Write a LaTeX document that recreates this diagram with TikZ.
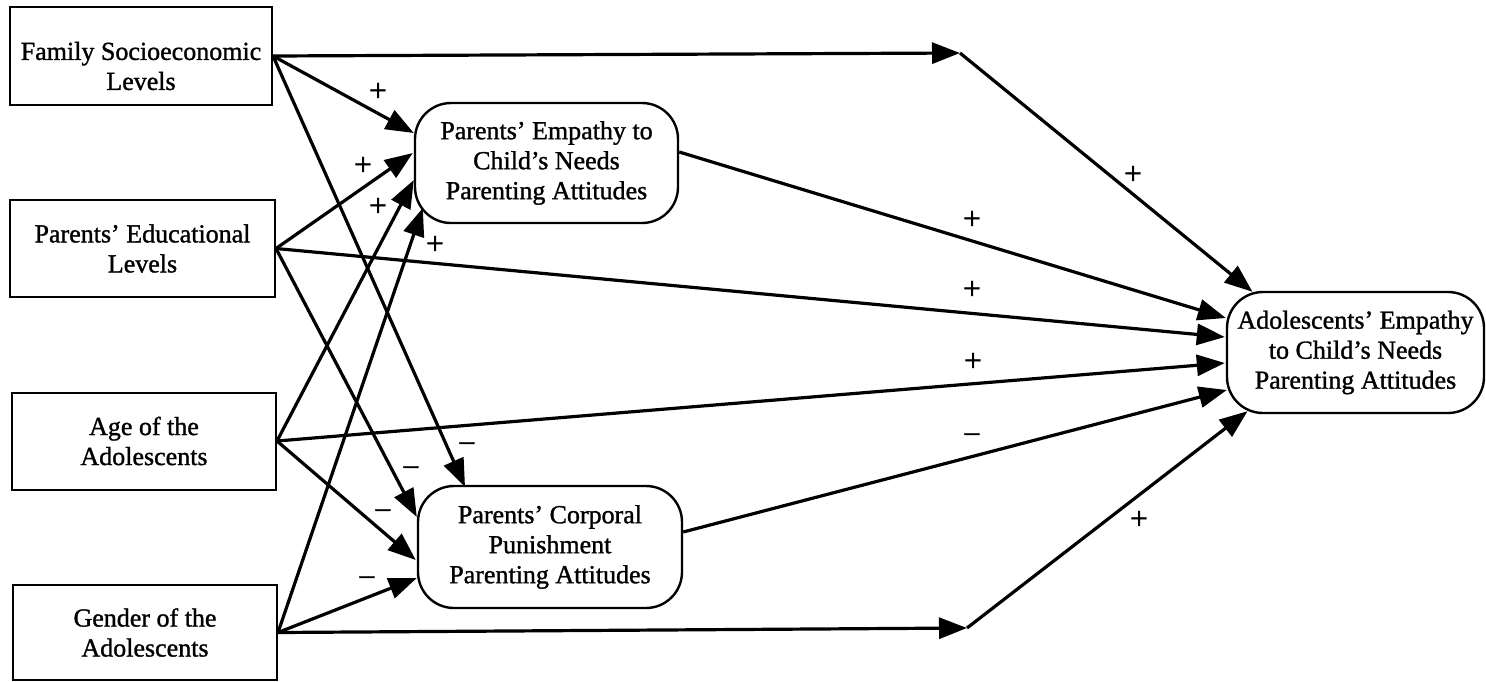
\documentclass[tikz,border=0pt]{standalone}
\usepackage{fontspec}
\setmainfont{Liberation Serif}[FakeBold=1.2]
\usetikzlibrary{arrows.meta,calc}
\begin{document}
\begin{tikzpicture}[x=1pt,y=-1pt,
  every node/.style={font=\fontsize{26}{30}\selectfont},
  box/.style={draw, line width=2pt, minimum width=264pt, minimum height=97pt, align=center, inner sep=0pt},
  rbox/.style={draw, line width=2.4pt, rounded corners=36pt, minimum width=263pt, minimum height=120pt, align=center, inner sep=0pt},
  conn/.style={line width=3.2pt, -{Triangle[length=28pt,width=21pt]}},
  sign/.style={inner sep=0pt, font=\fontsize{32}{32}\selectfont}]
\useasboundingbox (0,0) rectangle (1486,681);

% left boxes
\node[box, minimum width=262pt, minimum height=98pt] (b1) at (141,56) {};
\node[align=center, inner sep=0pt] (b1t) at (141,66) {Family Socioeconomic\\Levels};
\node[box, minimum width=265pt] (b2) at (142.5,248.5) {Parents’ Educational\\Levels};
\node[box] (b3) at (144,441) {Age of the\\Adolescents};
\node[box, minimum height=95pt] (b4) at (145,632.5) {Gender of the\\Adolescents};

% rounded nodes
\node[rbox] (pe) at (546.5,163) {Parents’ Empathy to\\Child’s Needs\\Parenting Attitudes};
\node[rbox, minimum width=264pt, minimum height=122pt] (pc) at (550,547) {Parents’ Corporal\\Punishment\\Parenting Attitudes};
\node[rbox, minimum width=257pt, minimum height=121pt] (ad) at (1355.5,352.5) {Adolescents’ Empathy\\to Child’s Needs\\Parenting Attitudes};

% bend points
\coordinate (c1) at (960,53);
\coordinate (c2) at (967,628);

% connectors
\draw[conn] (b1.east) -- (c1);
\draw[conn] (c1) -- ($(ad.north)+(-103,1)$);
\draw[conn] (b1.east) -- ($(pe.west)+(0,-30)$);
\draw[conn] (b1.east) -- ($(pc.north)+(-85,2)$);

\draw[conn] (b2.east) -- ($(pe.west)+(-1,-10)$);
\draw[conn] (b2.east) -- ($(pc.west)+(0,-30)$);
\draw[conn] (b2.east) -- ($(ad.west)+(-1,-15.5)$);

\draw[conn] (b3.east) -- ($(pe.west)+(0,17)$);
\draw[conn] (b3.east) -- ($(pc.west)+(-1,13)$);
\draw[conn] (b3.east) -- ($(ad.west)+(-1,10.5)$);

\draw[conn] (b4.east) -- ($(pe.west)+(9,45)$);
\draw[conn] (b4.east) -- ($(pc.west)+(0,31)$);
\draw[conn] (b4.east) -- (c2);
\draw[conn] (c2) -- ($(ad.south)+(-108,-3)$);

\draw[conn] ($(pe.east)+(0,-11)$) -- ($(ad.west)+(0,-34.5)$);
\draw[conn] ($(pc.east)+(0,-15)$) -- ($(ad.west)+(1,37.5)$);

% signs
\node[sign] (s1) at (378,92) {+};
\node[sign] (s2) at (363,166) {+};
\node[sign] (s3) at (378,207) {+};
\node[sign] (s4) at (435,245) {+};
\node[sign] (s5) at (467,448) {−};
\node[sign] (s6) at (411,472) {−};
\node[sign] (s7) at (383,515) {−};
\node[sign] (s8) at (367,582) {−};
\node[sign] (s9) at (1133,175) {+};
\node[sign] (s10) at (972,220) {+};
\node[sign] (s11) at (972,290) {+};
\node[sign] (s12) at (973,362) {+};
\node[sign] (s13) at (972,439) {−};
\node[sign] (s14) at (1139,520) {+};
\end{tikzpicture}
\end{document}
